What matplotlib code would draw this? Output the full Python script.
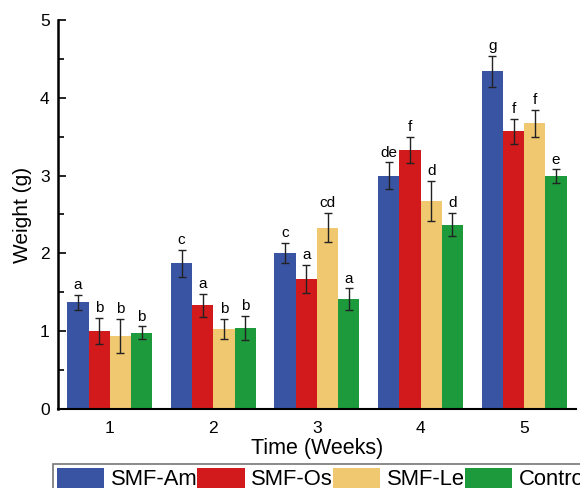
import numpy as np
import matplotlib
matplotlib.use("Agg")
import matplotlib.pyplot as plt
from matplotlib.ticker import MultipleLocator

plt.rcParams['font.family'] = ['Liberation Sans', 'DejaVu Sans']

weeks = ['1', '2', '3', '4', '5']
groups = ['SMF-Am', 'SMF-Os', 'SMF-Le', 'Control']
colors = ['#3a54a4', '#d21a1c', '#f0c870', '#1c9a3c']

# mean weight (g) per group, week 1..5
am = [1.37, 1.87, 2.00, 3.00, 4.34]
os_ = [1.00, 1.33, 1.67, 3.33, 3.57]
le = [0.94, 1.03, 2.33, 2.67, 3.67]
ctrl = [0.98, 1.04, 1.41, 2.37, 2.99]

# error bar half lengths
am_err = [0.10, 0.17, 0.13, 0.17, 0.20]
os_err = [0.17, 0.15, 0.18, 0.17, 0.16]
le_err = [0.22, 0.13, 0.19, 0.26, 0.17]
ctrl_err = [0.08, 0.16, 0.14, 0.15, 0.09]

# significance letters
am_sig = ['a', 'c', 'c', 'de', 'g']
os_sig = ['b', 'a', 'a', 'f', 'f']
le_sig = ['b', 'b', 'cd', 'd', 'f']
ctrl_sig = ['b', 'b', 'a', 'd', 'e']

values = [am, os_, le, ctrl]
errors = [am_err, os_err, le_err, ctrl_err]
letters = [am_sig, os_sig, le_sig, ctrl_sig]

fig = plt.figure(figsize=(5.8, 4.88), dpi=100)
ax = fig.add_axes([0.1, 0.162, 0.893, 0.797])

x = np.arange(1, len(weeks) + 1)
w = 0.205
for i in range(len(groups)):
    pos = x + (i - 1.5) * w
    ax.bar(pos, values[i], w, color=colors[i], label=groups[i], zorder=2)
    ax.errorbar(pos, values[i], yerr=errors[i], fmt='none', ecolor='#222222',
                elinewidth=1, capsize=3, capthick=1, zorder=3)
    for p, v, e, s in zip(pos, values[i], errors[i], letters[i]):
        ax.annotate(s, (p, v + e), xytext=(0, 2), textcoords='offset points',
                    ha='center', va='bottom', fontsize=11)

ax.set_xlim(0.5, 5.5)
ax.set_ylim(0, 5)
ax.set_xticks(x)
ax.set_xticklabels(weeks)
ax.yaxis.set_major_locator(MultipleLocator(1))
ax.yaxis.set_minor_locator(MultipleLocator(0.5))
ax.tick_params(axis='y', which='major', direction='in', length=6, width=1.2,
               labelsize=12.5, pad=6)
ax.tick_params(axis='y', which='minor', direction='in', length=4, width=1.2)
ax.tick_params(axis='x', length=0, labelsize=12.5, pad=9)

ax.spines['top'].set_visible(False)
ax.spines['right'].set_visible(False)
ax.spines['left'].set_linewidth(1.8)
ax.spines['bottom'].set_linewidth(1.5)

ax.set_xlabel('Time (Weeks)', fontsize=15.5, labelpad=1)
ax.set_ylabel('Weight (g)', fontsize=15, labelpad=6)

# legend runs past the right/bottom edge of the figure, as in the original
leg = fig.legend(loc='upper left', bbox_to_anchor=(0.0914, 0.049), ncol=4,
                 fontsize=15.8, handlelength=2.15, handleheight=1.0,
                 handletextpad=0.3, columnspacing=0.0, borderpad=0.18,
                 borderaxespad=0, fancybox=False, edgecolor='#555555')
leg.get_frame().set_linewidth(1.2)

fig.savefig('out.png', dpi=100)
